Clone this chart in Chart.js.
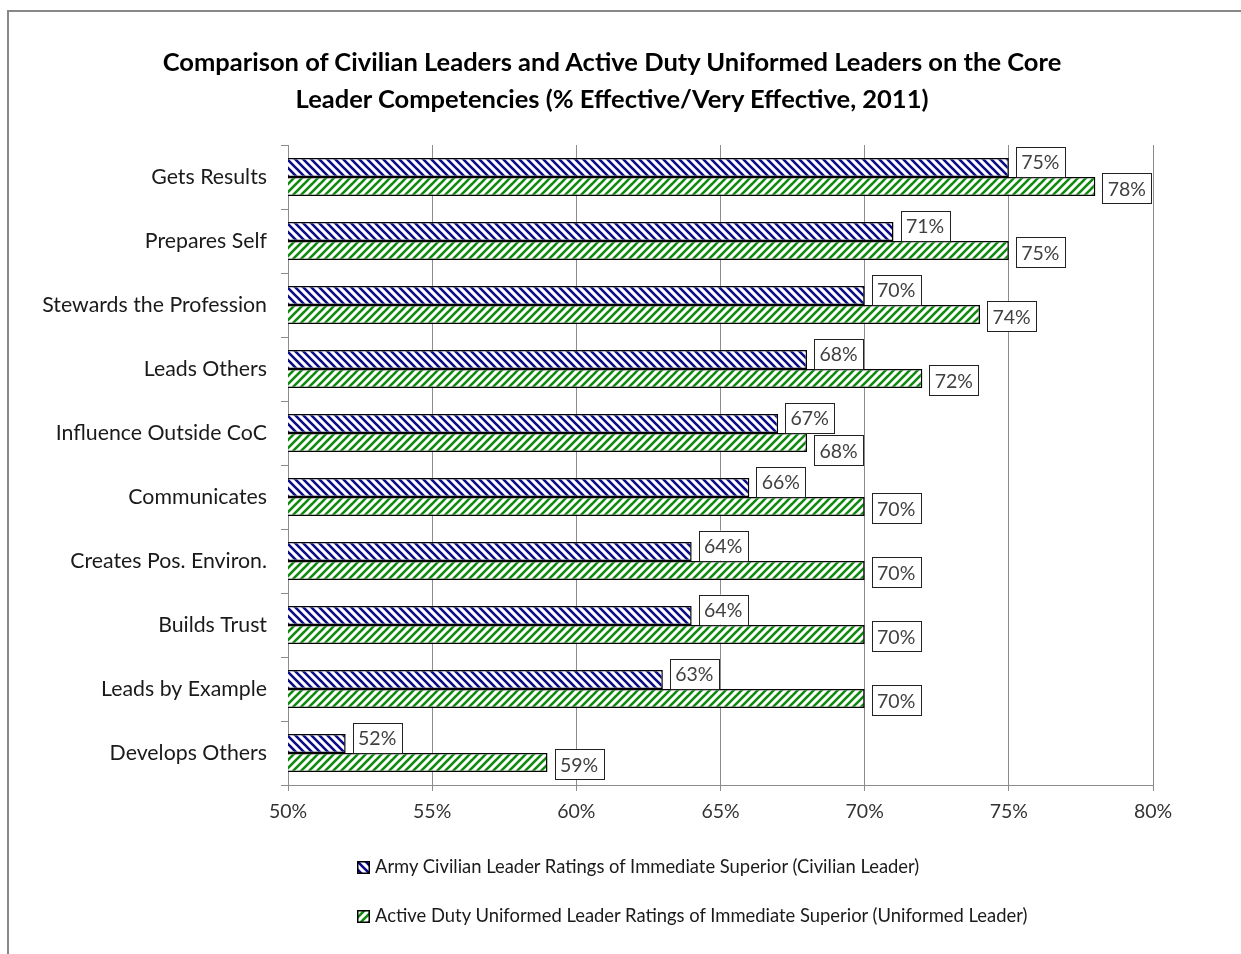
<!DOCTYPE html>
<html>
<head>
<meta charset="utf-8">
<script src="https://cdn.jsdelivr.net/npm/chart.js@4"></script>
<style>
  body { margin: 0; background: #fff; }
  #wrap { position: relative; width: 1241px; height: 954px; }
  #frame { position: absolute; left: 7px; top: 10px; right: 0; bottom: 0;
           border-top: 2px solid #888; border-left: 2px solid #888; }
  canvas { position: absolute; left: 0; top: 0; }
  #title { position: absolute; left: 0; width: 1224px; top: 43px; text-align: center;
           font-family: Lato, "Open Sans", sans-serif; font-weight: bold; font-size: 25.5px;
           line-height: 37px; color: #000; }
  .legend { position: absolute; left: 357px; font-family: Lato, "Open Sans", sans-serif;
            font-size: 18.4px; color: #1a1a1a; white-space: nowrap; }
  .legend canvas { position: static; vertical-align: -1px; margin-right: 5px; }
</style>
</head>
<body>
<div id="wrap">
  <div id="frame"></div>
  <canvas id="chart" width="1241" height="954"></canvas>
  <div id="title"></div>
  <div class="legend" id="leg1" style="top:855px"></div>
  <div class="legend" id="leg2" style="top:904px"></div>
</div>
<script>
const categories = ["Gets Results", "Prepares Self", "Stewards the Profession", "Leads Others",
  "Influence Outside CoC", "Communicates", "Creates Pos. Environ.", "Builds Trust",
  "Leads by Example", "Develops Others"];
const civilian = [75, 71, 70, 68, 67, 66, 64, 64, 63, 52];
const uniformed = [78, 75, 74, 72, 68, 70, 70, 70, 70, 59];
const seriesNames = [
  "Army Civilian Leader Ratings of Immediate Superior (Civilian Leader)",
  "Active Duty Uniformed Leader Ratings of Immediate Superior (Uniformed Leader)"
];
const titleLines = [
  "Comparison of Civilian Leaders and Active Duty Uniformed Leaders on the Core",
  "Leader Competencies (% Effective/Very Effective, 2011)"
];
const xTicks = [50, 55, 60, 65, 70, 75, 80];

const FONT = 'Lato, "Open Sans", sans-serif';

document.getElementById("title").innerHTML = titleLines.join("<br>");

// diagonal hatch, back = "\" lines, else "/"
function hatch(color, back) {
  const c = document.createElement("canvas");
  c.width = 8; c.height = 8;
  const g = c.getContext("2d");
  g.fillStyle = "#fff";
  g.fillRect(0, 0, 8, 8);
  g.strokeStyle = color;
  g.lineWidth = 2.6;
  g.beginPath();
  if (back) {
    g.moveTo(-2, -2); g.lineTo(10, 10);
    g.moveTo(-10, -2); g.lineTo(2, 10);
    g.moveTo(6, -2); g.lineTo(18, 10);
  } else {
    g.moveTo(-2, 10); g.lineTo(10, -2);
    g.moveTo(-10, 10); g.lineTo(2, -2);
    g.moveTo(6, 10); g.lineTo(18, -2);
  }
  g.stroke();
  return g.createPattern(c, "repeat");
}

const blueHatch = hatch("#0c0c88", true);
const greenHatch = hatch("#108a10", false);

// value labels in white boxes, like the excel data labels
const labelBoxes = {
  id: "labelBoxes",
  afterDatasetsDraw(chart) {
    const ctx = chart.ctx;
    ctx.save();
    ctx.font = "19.5px " + FONT;
    ctx.textAlign = "center";
    ctx.textBaseline = "middle";
    const m0 = chart.getDatasetMeta(0).data;
    const m1 = chart.getDatasetMeta(1).data;
    const w = 49, h = 30, gap = 7;
    for (let i = 0; i < categories.length; i++) {
      const a = m0[i], b = m1[i];
      const ax = a.x + gap, bx = b.x + gap;
      const overlap = !(ax + w < bx || bx + w < ax);
      const boxes = [
        [ax, a.y - 6, civilian[i]],
        [bx, b.y + (overlap ? 8 : 2), uniformed[i]]
      ];
      boxes.forEach(([x, y, v]) => {
        ctx.fillStyle = "#fff";
        ctx.fillRect(x, y - h / 2, w, h);
        ctx.strokeStyle = "#222";
        ctx.lineWidth = 1;
        ctx.strokeRect(Math.round(x) + 0.5, Math.round(y - h / 2) + 0.5, w, h);
        ctx.fillStyle = "#404040";
        ctx.fillText(v + "%", x + w / 2, y + 1);
      });
    }
    ctx.restore();
  }
};

new Chart(document.getElementById("chart"), {
  type: "bar",
  data: {
    labels: categories,
    datasets: [
      { label: seriesNames[0], data: civilian, backgroundColor: blueHatch,
        borderColor: "#000", borderWidth: 1.5, borderSkipped: false },
      { label: seriesNames[1], data: uniformed, backgroundColor: greenHatch,
        borderColor: "#000", borderWidth: 1.5, borderSkipped: false }
    ]
  },
  options: {
    indexAxis: "y",
    responsive: false,
    animation: false,
    categoryPercentage: 0.59,
    barPercentage: 1,
    layout: { padding: { left: 0, right: 88, top: 145, bottom: 0 } },
    plugins: {
      legend: { display: false },
      tooltip: { enabled: false }
    },
    scales: {
      x: {
        min: 50, max: 80,
        afterBuildTicks: s => { s.ticks = xTicks.map(v => ({ value: v })); },
        afterFit: s => { s.height = 169; },
        ticks: { callback: v => v + "%", color: "#333", padding: 9,
                 font: { family: FONT, size: 19.5 } },
        grid: { color: "#8c8c8c", lineWidth: 1, tickLength: 6 },
        border: { color: "#8c8c8c", width: 1 }
      },
      y: {
        afterFit: s => { s.width = 288; },
        ticks: { color: "#1a1a1a", padding: 14, font: { family: FONT, size: 21.3 } },
        grid: { drawOnChartArea: false, color: "#8c8c8c", tickLength: 7 },
        border: { color: "#8c8c8c", width: 1 }
      }
    }
  },
  plugins: [labelBoxes]
});

// legend rows below the plot
[[ "leg1", "#0c0c88", true ], [ "leg2", "#108a10", false ]].forEach(([id, col, back], k) => {
  const el = document.getElementById(id);
  const sw = document.createElement("canvas");
  sw.width = 13; sw.height = 13;
  const g = sw.getContext("2d");
  g.fillStyle = hatch(col, back);
  g.fillRect(0, 0, 13, 13);
  g.strokeStyle = "#000";
  g.lineWidth = 1.5;
  g.strokeRect(0.75, 0.75, 11.5, 11.5);
  el.appendChild(sw);
  el.appendChild(document.createTextNode(seriesNames[k]));
});
</script>
</body>
</html>
